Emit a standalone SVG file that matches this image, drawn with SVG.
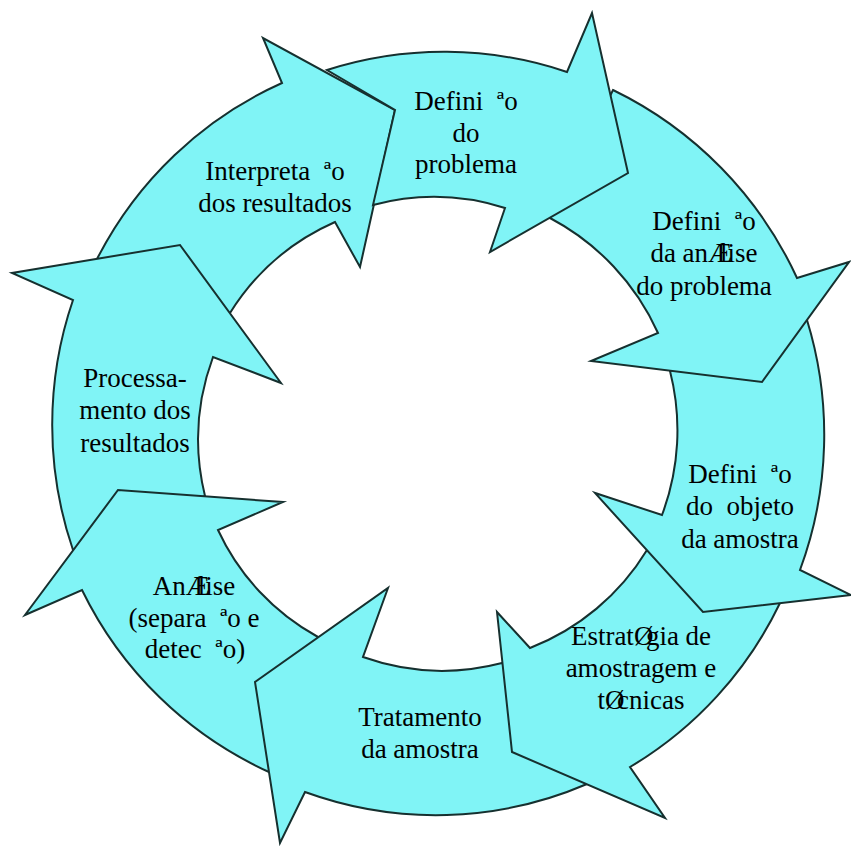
<svg xmlns="http://www.w3.org/2000/svg" width="851" height="848" viewBox="0 0 851 848">
<style>
.arrow{fill:#80f4f6;stroke:#16302f;stroke-width:2;stroke-linejoin:miter;stroke-miterlimit:10}
.lbl{font-family:"Liberation Serif","Times New Roman",serif;font-size:27px;fill:#000;text-anchor:middle}
</style>
<rect width="851" height="848" fill="#fff"/>
<g id="interpretacao">
<path class="arrow" d="M97,259 A384,384 0 0 1 282,83 L263,38 L395,110 L360,267 L335,222 A237,237 0 0 0 230,313 Z"/>
<text class="lbl" x="275" y="180">Interpreta&#160;&#160;ªo</text>
<text class="lbl" x="275" y="212">dos resultados</text>
</g>
<g id="processamento">
<path class="arrow" d="M73,550 A386,386 0 0 1 73,300 L12,273 L180,245 L281,383 L213,357 A238,238 0 0 0 205,496 Z"/>
<text class="lbl" x="135" y="387">Processa-</text>
<text class="lbl" x="135" y="419">mento dos</text>
<text class="lbl" x="135" y="452">resultados</text>
</g>
<g id="analise">
<path class="arrow" d="M269,772 A385,385 0 0 1 82,590 L25,615 L118,490 L283,502 L218,530 A234,234 0 0 0 318,637 Z"/>
<text class="lbl" x="194" y="595">An<tspan>Æ</tspan><tspan dx="-12">lise</tspan></text>
<text class="lbl" x="194" y="627">(separa&#160;&#160;ªo e</text>
<text class="lbl" x="195" y="658">detec&#160;&#160;ªo)</text>
</g>
<g id="tratamento">
<path class="arrow" d="M587,784 A382,382 0 0 1 305,792 L280,843 L255,682 L388,588 L363,657 A237,237 0 0 0 502,663 Z"/>
<text class="lbl" x="420" y="726">Tratamento</text>
<text class="lbl" x="420" y="758">da amostra</text>
</g>
<g id="estrategia">
<path class="arrow" d="M780,603 A384,384 0 0 1 630,767 L665,818 L512,752 L497,612 L530,648 A238,238 0 0 0 647,550 Z"/>
<text class="lbl" x="641" y="645">Estrat<tspan>Ø</tspan><tspan dx="-7.5">gia de</tspan></text>
<text class="lbl" x="641" y="677">amostragem e</text>
<text class="lbl" x="641" y="709">t<tspan>Ø</tspan><tspan dx="-7.5">cnicas</tspan></text>
</g>
<g id="definicao-objeto">
<path class="arrow" d="M807,320 A390,390 0 0 1 800,570 L851,595 L703,612 L595,493 L662,515 A240,240 0 0 0 670,371 Z"/>
<text class="lbl" x="740" y="483">Defini&#160;&#160;ªo</text>
<text class="lbl" x="740" y="515">do&#160; objeto</text>
<text class="lbl" x="740" y="548">da amostra</text>
</g>
<g id="definicao-analise">
<path class="arrow" d="M613,90 A390,390 0 0 1 797,278 L849,262 L762,382 L591,361 L658,333 A243,243 0 0 0 550,218 Z"/>
<text class="lbl" x="704" y="230">Defini&#160;&#160;ªo</text>
<text class="lbl" x="704" y="262">da an<tspan>Æ</tspan><tspan dx="-12">lise</tspan></text>
<text class="lbl" x="704" y="295">do problema</text>
</g>
<g id="definicao-problema">
<path class="arrow" d="M327,70 A384,384 0 0 1 567,72 L592,13 L628,173 L490,252 L505,208 A236,236 0 0 0 373,205 L395,110 Z"/>
<text class="lbl" x="466" y="110">Defini&#160;&#160;ªo</text>
<text class="lbl" x="466" y="142">do</text>
<text class="lbl" x="466" y="173">problema</text>
</g>
</svg>
